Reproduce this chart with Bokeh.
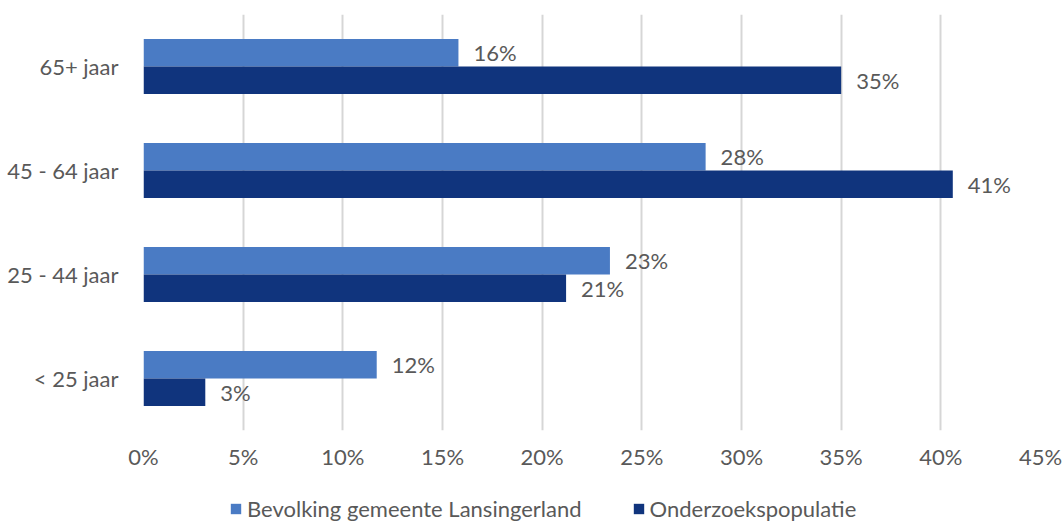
from bokeh.plotting import figure
from bokeh.layouts import column
from bokeh.models import ColumnDataSource, FixedTicker, PrintfTickFormatter, Legend, LegendItem, Range1d
from bokeh.transform import dodge
from bokeh.core.properties import value
from bokeh.embed import file_html
from bokeh.resources import INLINE

categories = ["< 25 jaar", "25 - 44 jaar", "45 - 64 jaar", "65+ jaar"]
bevolking = [11.7, 23.4, 28.2, 15.8]
onderzoek = [3.1, 21.2, 40.6, 35.0]
bevolking_labels = ["12%", "23%", "28%", "16%"]
onderzoek_labels = ["3%", "21%", "41%", "35%"]
series_names = ["Bevolking gemeente Lansingerland", "Onderzoekspopulatie"]
x_ticks = [0, 5, 10, 15, 20, 25, 30, 35, 40, 45]

FONT = "Lato"
GREY = "#595959"
FS = "22px"
LIGHT = "#4a7bc4"
DARK = "#10347d"

src = ColumnDataSource(data=dict(cat=categories, bev=bevolking, ond=onderzoek,
                                 bev_lbl=bevolking_labels, ond_lbl=onderzoek_labels))

p = figure(width=1062, height=480, y_range=categories, x_range=(0, 45),
           output_backend="svg", toolbar_location=None,
           min_border_left=143, min_border_right=22, min_border_top=14, min_border_bottom=50)

BH = 0.265
p.hbar(y=dodge("cat", BH / 2, range=p.y_range), left=0, right="bev", height=BH,
       source=src, fill_color=LIGHT, line_color=None)
p.hbar(y=dodge("cat", -BH / 2, range=p.y_range), left=0, right="ond", height=BH,
       source=src, fill_color=DARK, line_color=None)

for col, lbl, off in (("bev", "bev_lbl", BH / 2), ("ond", "ond_lbl", -BH / 2)):
    p.text(x=col, y=dodge("cat", off, range=p.y_range), text=lbl, source=src,
           x_offset=15, text_align="left", text_baseline="middle",
           text_font=value(FONT), text_font_size=FS, text_color=GREY)

p.outline_line_color = None
p.ygrid.grid_line_color = None
p.xgrid.grid_line_color = "#d6d6d6"
p.xgrid.grid_line_width = 2

p.xaxis.ticker = FixedTicker(ticks=x_ticks)
p.xaxis.formatter = PrintfTickFormatter(format="%d%%")
for ax in (p.xaxis[0], p.yaxis[0]):
    ax.axis_line_color = None
    ax.major_tick_line_color = None
    ax.minor_tick_line_color = None
    ax.major_tick_out = 0
    ax.major_tick_in = 0
    ax.major_label_text_font = FONT
    ax.major_label_text_font_size = FS
    ax.major_label_text_color = GREY
p.xaxis.major_label_standoff = 12
p.yaxis.major_label_standoff = 25

# legend strip below the chart (its bars have no height, only the legend shows)
lg = figure(width=1062, height=44, y_range=categories, x_range=Range1d(100, 200),
            x_axis_type=None, y_axis_type=None,
            output_backend="svg", toolbar_location=None, min_border=0)
lg.outline_line_color = None
l1 = lg.hbar(y="cat", right="bev", left=0, height=0, source=src,
             fill_color=LIGHT, line_color=None)
l2 = lg.hbar(y="cat", right="ond", left=0, height=0, source=src,
             fill_color=DARK, line_color=None)
legend = Legend(items=[LegendItem(label=series_names[0], renderers=[l1]),
                       LegendItem(label=series_names[1], renderers=[l2])],
                location=(86, 2), orientation="horizontal",
                glyph_width=13, glyph_height=13, label_standoff=5, spacing=50,
                padding=0, margin=0, border_line_color=None, background_fill_alpha=0,
                label_text_font=FONT, label_text_font_size=FS, label_text_color=GREY,
                label_height=20)
lg.add_layout(legend)

open("out.html", "w").write(file_html(column(p, lg, spacing=0), INLINE))
